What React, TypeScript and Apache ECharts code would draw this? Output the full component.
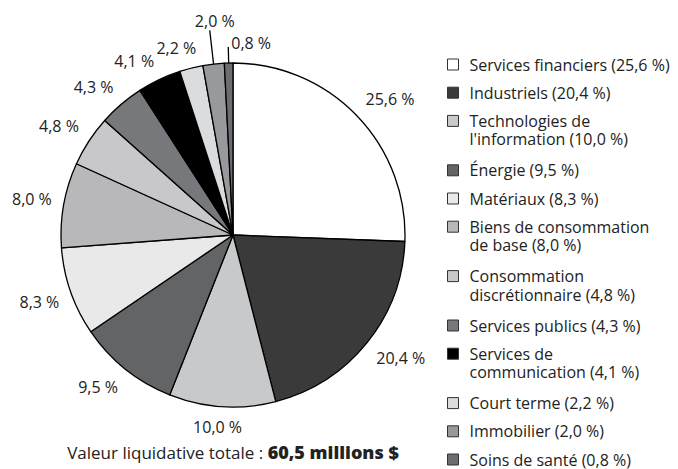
import React, { useEffect, useRef } from "react";
import * as echarts from "echarts";

// ---- data ----
const categories: string[] = [
  "Services financiers",
  "Industriels",
  "Technologies de\nl'information",
  "Énergie",
  "Matériaux",
  "Biens de consommation\nde base",
  "Consommation\ndiscrétionnaire",
  "Services publics",
  "Services de\ncommunication",
  "Court terme",
  "Immobilier",
  "Soins de santé",
];
const values: number[] = [25.6, 20.4, 10.0, 9.5, 8.3, 8.0, 4.8, 4.3, 4.1, 2.2, 2.0, 0.8];
const colors: string[] = [
  "#ffffff", "#3a3a3a", "#c8c9cb", "#636466", "#e9e9e9", "#b8b8ba",
  "#c8c8ca", "#77787b", "#000000", "#dbdcde", "#98999c", "#6c6d70",
];
const totalLabel = "Valeur liquidative totale : ";
const totalValue = "60,5 millions $";

// ---- layout constants ----
const FONT = "'Open Sans', sans-serif";
const FS = 16;
const TEXT = "#222222";
const CX = 233;
const CY = 235;
const R = 172;
const GAP = 12;
const LEGEND_LEFT = 447;
const LEGEND_FIRST = 64.5;
const ITEM_PITCH = 28.2;
const EXTRA_LINE = 21.2;
const LINE_H = 18.5;
const SW = 11; // legend swatch size
// small slices with a leader line: line length past the rim, label offset from the line end
const callouts: Record<number, { len: number; dx: number; dy: number; align: string }> = {
  10: { len: 34, dx: 5, dy: -9, align: "center" },
  11: { len: 16, dx: 3, dy: -4, align: "left" },
};

const fmt = (v: number) => v.toFixed(1).replace(".", ",") + " %";
const clamp = (v: number) => Math.max(-1, Math.min(1, v));

export default function App() {
  const ref = useRef<HTMLDivElement>(null);
  useEffect(() => {
    if (!ref.current) return;
    const chart = echarts.init(ref.current, null, { renderer: "svg" });
    const total = values.reduce((a, b) => a + b, 0);
    const mids: number[] = [];
    let cum = 0;
    values.forEach((v) => {
      mids.push(((cum + v / 2) / total) * Math.PI * 2);
      cum += v;
    });

    // legend: one component per entry; for multi-line entries the swatch is drawn at the
    // top of a taller icon box so that it lines up with the first text line
    const legends: any[] = [];
    let c = LEGEND_FIRST;
    categories.forEach((name) => {
      const extra = name.split("\n").length - 1;
      const ih = SW + extra * LINE_H;
      const icon = extra ? `path://M0,0H${SW}V${SW}H0Z M0,${ih}` : "rect";
      legends.push({
        show: true,
        data: [{ name, icon }],
        orient: "vertical",
        left: LEGEND_LEFT,
        top: c - LINE_H / 2,
        padding: 0,
        itemWidth: SW,
        itemHeight: ih,
        symbolKeepAspect: false,
        selectedMode: false,
        itemStyle: { borderColor: "#333333", borderWidth: 1 },
        formatter: (n: string) => `${n} (${fmt(values[categories.indexOf(n)])})`,
        textStyle: {
          fontFamily: FONT,
          fontSize: FS,
          color: TEXT,
          lineHeight: LINE_H,
          padding: [0, 0, 0, 6],
        },
      });
      c += ITEM_PITCH + extra * EXTRA_LINE;
    });

    const option: any = {
      animation: false,
      backgroundColor: "#ffffff",
      title: {
        text: `{a|${totalLabel}}{b|${totalValue}}`,
        left: CX,
        top: 443,
        textAlign: "center",
        padding: 0,
        textStyle: {
          fontWeight: "normal",
          fontFamily: FONT,
          fontSize: 17,
          color: TEXT,
          rich: {
            a: { fontFamily: FONT, fontSize: 17, color: TEXT, fontWeight: "normal", lineHeight: 18 },
            b: { fontFamily: FONT, fontSize: 18, color: TEXT, fontWeight: 800, lineHeight: 18 },
          },
        },
      },
      legend: legends,
      series: [
        {
          type: "pie",
          center: [CX, CY],
          radius: R,
          startAngle: 90,
          clockwise: true,
          avoidLabelOverlap: false,
          silent: true,
          emphasis: { disabled: true },
          itemStyle: { borderColor: "#000000", borderWidth: 1.3 },
          label: {
            show: true,
            position: "outside",
            formatter: (p: any) => fmt(p.value),
            fontFamily: FONT,
            fontSize: FS,
            color: TEXT,
          },
          labelLine: { show: false, lineStyle: { color: "#000000", width: 1.3 } },
          labelLayout: (p: any) => {
            const i = p.dataIndex;
            const a = mids[i];
            const dx = Math.sin(a);
            const dy = -Math.cos(a);
            const co = callouts[i];
            if (co) {
              const x1 = CX + (R - 3) * dx;
              const y1 = CY + (R - 3) * dy;
              const x2 = CX + (R + co.len) * dx;
              const y2 = CY + (R + co.len) * dy;
              return {
                x: x2 + co.dx,
                y: y2 + co.dy,
                align: co.align,
                verticalAlign: "middle",
                labelLinePoints: [[x1, y1], [x2, y2]],
              };
            }
            const w = p.labelRect.width / 2;
            const h = p.labelRect.height / 2;
            const px = CX + (R + GAP) * dx;
            const py = CY + (R + GAP) * dy;
            return {
              x: px + w * clamp(dx / 0.4),
              y: py + h * clamp(dy / 0.4),
              align: "center",
              verticalAlign: "middle",
            };
          },
          data: categories.map((name, i) => ({
            name,
            value: values[i],
            itemStyle: { color: colors[i] },
            labelLine: { show: !!callouts[i] },
          })),
        },
      ],
    };
    chart.setOption(option);
    return () => chart.dispose();
  }, []);
  return (
    <div
      ref={ref}
      style={{ position: "fixed", left: 0, top: 0, width: 678, height: 469, background: "#fff" }}
    />
  );
}
